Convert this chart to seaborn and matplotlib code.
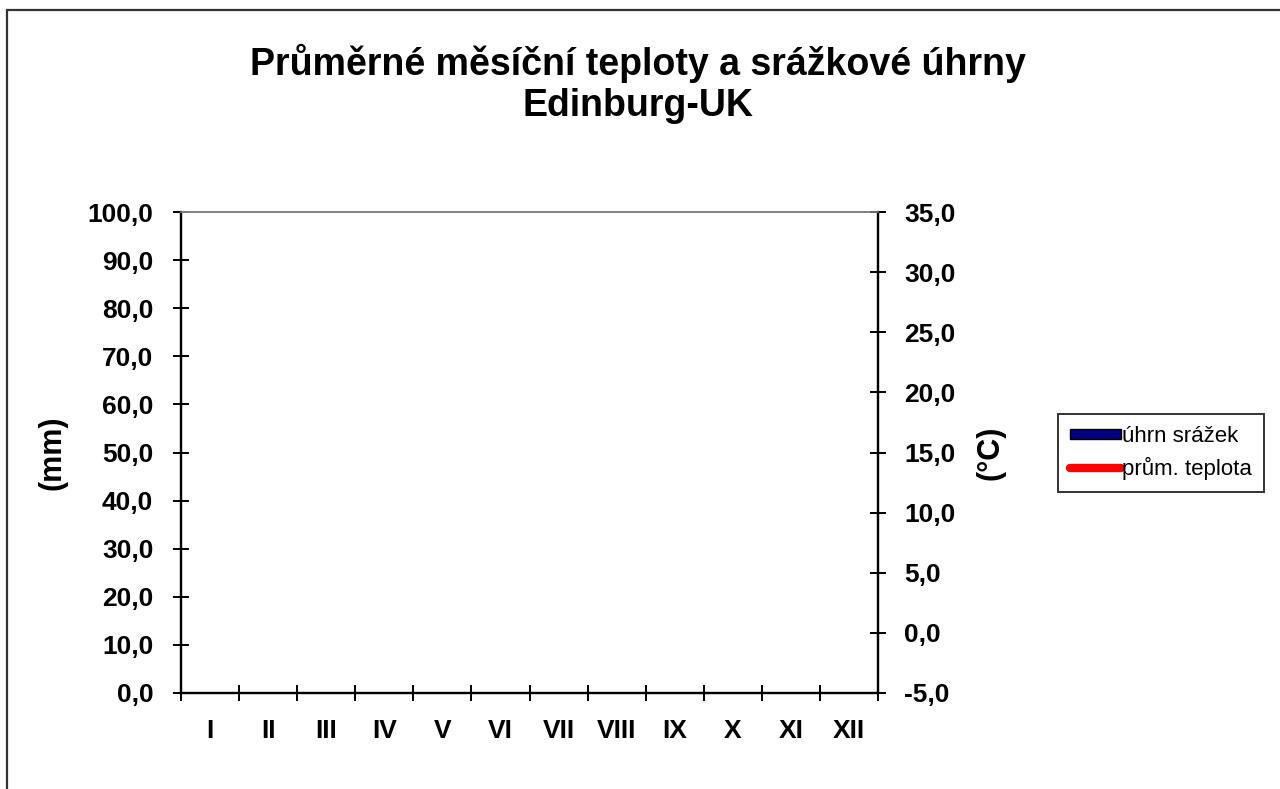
import numpy as np
import pandas as pd
import matplotlib
matplotlib.use('Agg')
import matplotlib.pyplot as plt
import seaborn as sns
from matplotlib.lines import Line2D
from matplotlib.patches import Patch, Rectangle

# data (the chart in the reference is empty: no values filled in)
months = ['I', 'II', 'III', 'IV', 'V', 'VI', 'VII', 'VIII', 'IX', 'X', 'XI', 'XII']
srazky = [np.nan, np.nan, np.nan, np.nan, np.nan, np.nan,
          np.nan, np.nan, np.nan, np.nan, np.nan, np.nan]
teplota = [np.nan, np.nan, np.nan, np.nan, np.nan, np.nan,
           np.nan, np.nan, np.nan, np.nan, np.nan, np.nan]
mm_ticks = [0, 10, 20, 30, 40, 50, 60, 70, 80, 90, 100]
c_ticks = [-5, 0, 5, 10, 15, 20, 25, 30, 35]

sns.set_theme(style='white')
plt.rcParams['font.family'] = ['Liberation Sans', 'DejaVu Sans']
plt.rcParams['text.color'] = 'black'
plt.rcParams['axes.labelcolor'] = 'black'
plt.rcParams['xtick.color'] = 'black'
plt.rcParams['ytick.color'] = 'black'

df = pd.DataFrame({'mesic': months, 'srazky': srazky, 'teplota': teplota})

fig = plt.figure(figsize=(12.8, 7.89), dpi=100)
fig.patch.set_facecolor('white')
# outer frame of the chart area
fig.patches.append(Rectangle((7 / 1280, -0.05), 1.2, (789 - 10) / 789 + 0.05,
                             transform=fig.transFigure, fill=False,
                             edgecolor='#333333', linewidth=1.6))

ax = fig.add_axes([181 / 1280, 96 / 789, 697 / 1280, 481 / 789])
ax.set_facecolor('white')

sns.barplot(data=df, x='mesic', y='srazky', color='#000080', ax=ax)
ax2 = ax.twinx()
sns.lineplot(data=df, x='mesic', y='teplota', color='red', linewidth=4, ax=ax2, legend=False)

ax.set_xlim(-0.5, 11.5)
ax.set_ylim(0, 100)
ax2.set_ylim(-5, 35)

# ticks on month boundaries, labels in the middle
ax.set_xticks(np.arange(-0.5, 12, 1))
ax.set_xticklabels([])
ax.set_xticks(np.arange(0, 12), minor=True)
ax.set_xticklabels(months, minor=True, fontsize=19, fontweight='bold')
ax.tick_params(axis='x', which='major', direction='inout', length=12, width=1.4,
               color='black', bottom=True)
ax.tick_params(axis='x', which='minor', length=0, pad=19, bottom=True)

ax.set_yticks(mm_ticks)
ax.set_yticklabels([f'{v:.1f}'.replace('.', ',') for v in mm_ticks],
                   fontsize=19, fontweight='bold')
ax.tick_params(axis='y', direction='inout', length=12, width=1.4, color='black',
               left=True, pad=14)

ax2.set_yticks(c_ticks)
ax2.set_yticklabels([f'{v:.1f}'.replace('.', ',') for v in c_ticks],
                    fontsize=19, fontweight='bold')
ax2.tick_params(axis='y', direction='inout', length=12, width=1.4, color='black',
                right=True, pad=13)

ax.set_xlabel('')
ax.set_ylabel('(mm)', fontsize=22, fontweight='bold', labelpad=14)
ax2.set_ylabel('(°C)', fontsize=22, fontweight='bold', labelpad=14)
ax2.set_xlabel('')

for a in (ax, ax2):
    for s in ('left', 'bottom', 'right'):
        a.spines[s].set_color('black')
        a.spines[s].set_linewidth(1.6)
    a.spines['top'].set_color('#808080')
    a.spines['top'].set_linewidth(1.2)
    a.grid(False)

fig.text(0.498, (789 - 84) / 789, 'Průměrné měsíční teploty a srážkové úhrny\nEdinburg-UK',
         ha='center', va='center', fontsize=27, fontweight='bold', linespacing=1.18)

handles = [Patch(facecolor='#000080', edgecolor='black', linewidth=1),
           Line2D([0], [0], color='red', linewidth=6, solid_capstyle='round')]
leg = fig.legend(handles, ['úhrn srážek', 'prům. teplota'],
                 loc='center', bbox_to_anchor=(1161 / 1280, (789 - 453) / 789),
                 fontsize=16, frameon=True, fancybox=False, edgecolor='black',
                 handlelength=2.3, handleheight=0.35, handletextpad=0.05,
                 borderpad=0.55, labelspacing=0.45, borderaxespad=0)
leg.get_frame().set_linewidth(1.4)

fig.savefig('out.png', dpi=100, facecolor='white')
